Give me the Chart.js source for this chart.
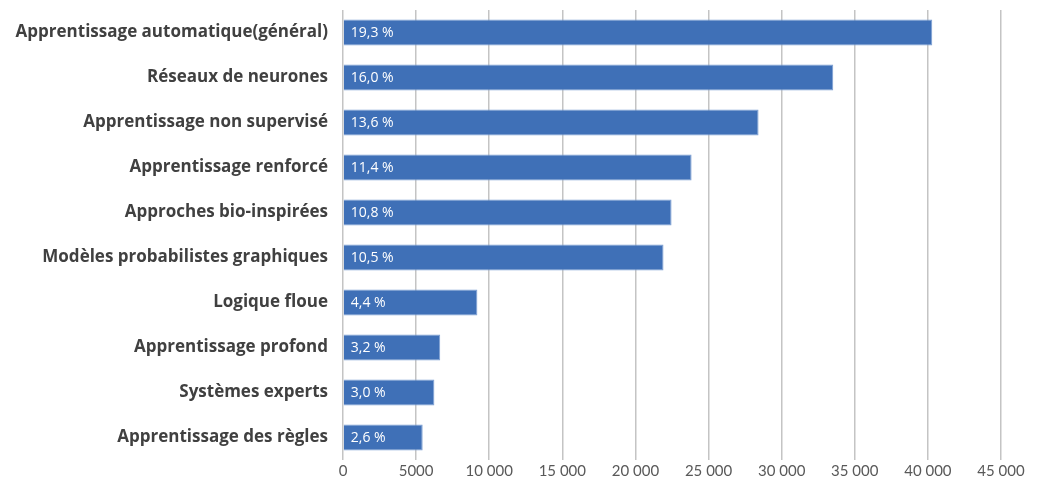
<!DOCTYPE html>
<html>
<head>
<meta charset="utf-8">
<title>Apprentissage</title>
<script src="https://cdn.jsdelivr.net/npm/chart.js"></script>
<style>
    body { margin: 0; background: #ffffff; }
    .chart-container { position: relative; width: 1037px; height: 479px; }
</style>
</head>
<body>
<div class="chart-container">
    <canvas id="barChart"></canvas>
</div>
<script>
    // data
    var categories = [
        'Apprentissage automatique(général)',
        'Réseaux de neurones',
        'Apprentissage non supervisé',
        'Apprentissage renforcé',
        'Approches bio-inspirées',
        'Modèles probabilistes graphiques',
        'Logique floue',
        'Apprentissage profond',
        'Systèmes experts',
        'Apprentissage des règles'
    ];
    var values = [40300, 33530, 28420, 23840, 22470, 21920, 9190, 6650, 6250, 5450];
    var percentLabels = ['19,3 %', '16,0 %', '13,6 %', '11,4 %', '10,8 %', '10,5 %', '4,4 %', '3,2 %', '3,0 %', '2,6 %'];
    var tickLabels = ['0', '5000', '10 000', '15 000', '20 000', '25 000', '30 000', '35 000', '40 000', '45 000'];

    var labelFont = '"Open Sans", Lato, sans-serif';
    var tickFont = 'Lato, "Open Sans", sans-serif';

    // draws the percent text inside each bar, at its start
    var insideLabels = {
        id: 'insideLabels',
        afterDatasetsDraw: function (chart) {
            var ctx = chart.ctx;
            var meta = chart.getDatasetMeta(0);
            ctx.save();
            ctx.font = '14px ' + labelFont;
            ctx.fillStyle = '#ffffff';
            ctx.textAlign = 'left';
            ctx.textBaseline = 'middle';
            meta.data.forEach(function (bar, i) {
                ctx.fillText(percentLabels[i], bar.base + 7, bar.y + 1);
            });
            ctx.restore();
        }
    };

    var ctx = document.getElementById('barChart').getContext('2d');
    var chart = new Chart(ctx, {
        type: 'bar',
        data: {
            labels: categories,
            datasets: [{
                data: values,
                backgroundColor: '#3f70b7',
                borderColor: '#7c9fd3',
                borderWidth: 1,
                barPercentage: 0.58,
                categoryPercentage: 1
            }]
        },
        options: {
            indexAxis: 'y',
            responsive: true,
            maintainAspectRatio: false,
            animation: false,
            layout: { padding: { left: 0, right: 36, top: 10, bottom: 0 } },
            plugins: {
                legend: { display: false },
                tooltip: { enabled: false }
            },
            scales: {
                x: {
                    min: 0,
                    max: 45000,
                    ticks: {
                        stepSize: 5000,
                        color: '#595959',
                        font: { family: tickFont, size: 15 },
                        padding: 2,
                        callback: function (v, i) { return tickLabels[i]; }
                    },
                    grid: { color: '#c4c4c4', lineWidth: 1.5, drawTicks: false },
                    border: { display: false },
                    afterFit: function (scale) { scale.height = 19; }
                },
                y: {
                    ticks: {
                        color: '#404040',
                        font: { family: labelFont, size: 17, weight: 'bold' },
                        padding: 7
                    },
                    grid: { display: false },
                    border: { display: false },
                    afterFit: function (scale) {
                        scale.width = 343;
                        scale.paddingTop = 0;
                        scale.paddingBottom = 0;
                    }
                }
            }
        },
        plugins: [insideLabels]
    });
</script>
</body>
</html>
